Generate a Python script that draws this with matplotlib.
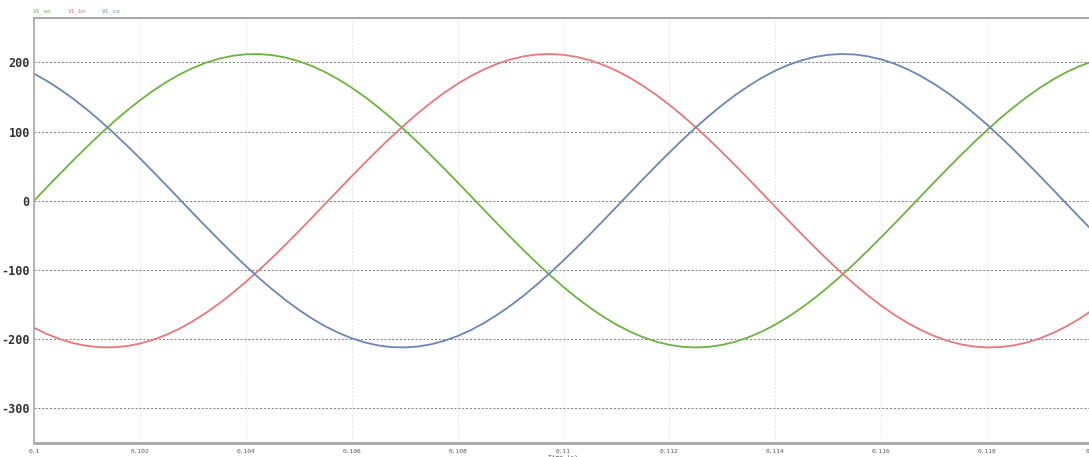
import matplotlib.pyplot as plt
from matplotlib.ticker import FixedLocator

plt.rcParams['axes.unicode_minus'] = False

# time samples (s), one every 0.25 ms
time = [0.1 + 0.00025 * k for k in range(81)]

v1_an = [0, 20.0, 39.7, 59.1, 78.0, 96.2, 113.6, 129.9, 145.1, 159.0,
         171.5, 182.5, 191.8, 199.5, 205.3, 209.4, 211.6, 211.9, 210.3, 206.9,
         201.6, 194.6, 185.8, 175.3, 163.3, 149.9, 135.1, 119.2, 102.1, 84.2,
         65.5, 46.2, 26.6, 6.7, -13.3, -33.2, -52.7, -71.8, -90.3, -107.9,
         -124.6, -140.2, -154.5, -167.5, -179.0, -188.9, -197.1, -203.6, -208.2, -211.1,
         -212.0, -211.1, -208.2, -203.6, -197.1, -188.9, -179.0, -167.5, -154.5, -140.2,
         -124.6, -107.9, -90.3, -71.8, -52.7, -33.2, -13.3, 6.7, 26.6, 46.2,
         65.5, 84.2, 102.1, 119.2, 135.1, 149.9, 163.3, 175.3, 185.8, 194.6,
         201.6]

v1_bn = [-183.6, -192.8, -200.2, -205.9, -209.7, -211.7, -211.8, -210.0, -206.4, -200.9,
         -193.7, -184.7, -174.0, -161.9, -148.3, -133.4, -117.3, -100.2, -82.2, -63.4,
         -44.1, -24.4, -4.4, 15.5, 35.4, 54.9, 73.9, 92.3, 109.8, 126.4,
         141.9, 156.1, 168.9, 180.2, 189.9, 197.9, 204.2, 208.7, 211.3, 212.0,
         210.8, 207.8, 203.0, 196.3, 187.9, 177.8, 166.1, 153.0, 138.5, 122.8,
         106.0, 88.3, 69.7, 50.6, 31.0, 11.1, -8.9, -28.8, -48.4, -67.6,
         -86.2, -104.1, -121.0, -136.8, -151.5, -164.8, -176.6, -186.8, -195.4, -202.3,
         -207.4, -210.6, -212.0, -211.4, -209.0, -204.8, -198.7, -190.9, -181.4, -170.2,
         -157.5]

v1_cn = [183.6, 172.8, 160.5, 146.8, 131.7, 115.5, 98.2, 80.1, 61.3, 41.9,
         22.2, 2.2, -17.8, -37.6, -57.0, -76.0, -94.3, -111.7, -128.1, -143.5,
         -157.5, -170.2, -181.4, -190.8, -198.7, -204.8, -209.0, -211.5, -211.9, -210.6,
         -207.4, -202.3, -195.5, -186.9, -176.6, -164.7, -151.5, -136.9, -121.0, -104.1,
         -86.2, -67.6, -48.5, -28.8, -8.9, 11.1, 31.0, 50.6, 69.7, 88.3,
         106.0, 122.8, 138.5, 153.0, 166.1, 177.8, 187.9, 196.3, 202.9, 207.8,
         210.8, 212.0, 211.3, 208.6, 204.2, 198.0, 189.9, 180.1, 168.8, 156.1,
         141.9, 126.4, 109.9, 92.2, 73.9, 54.9, 35.4, 15.6, -4.4, -24.4,
         -44.1]

x_ticks = [0.1, 0.102, 0.104, 0.106, 0.108, 0.11, 0.112, 0.114, 0.116, 0.118, 0.12]
x_labels = ['0.1', '0.102', '0.104', '0.106', '0.108', '0.11', '0.112', '0.114', '0.116', '0.118', '0.12']
y_ticks = [-300, -200, -100, 0, 100, 200]

names = ['V1_an', 'V1_bn', 'V1_cn']
colors = ['#6db33f', '#e8777a', '#6a86b6']

fig = plt.figure(figsize=(10.89, 4.57), dpi=100)
ax = fig.add_axes([34 / 1089, 14 / 457, 1059 / 1089, 425 / 457])

for y, c in zip([v1_an, v1_bn, v1_cn], colors):
    ax.plot(time, y, color=c, lw=1.3, solid_joinstyle='round')

ax.set_xlim(0.1, 0.12)
ax.set_ylim(-350, 264)

ax.xaxis.set_major_locator(FixedLocator(x_ticks))
ax.set_xticklabels(x_labels, fontsize=4.5, family='DejaVu Sans Mono', color='#555555')
ax.set_yticks(y_ticks)
ax.set_yticklabels([str(v) for v in y_ticks], fontsize=8.5, family='DejaVu Sans Mono',
                   fontweight='bold', color='#333333')
ax.tick_params(axis='both', length=0)
ax.tick_params(axis='x', pad=4)
ax.tick_params(axis='y', pad=3)

ax.grid(axis='y', color='#7a7a7a', ls=(0, (2, 2)), lw=0.7)
ax.grid(axis='x', color='#e6e6e6', ls=(0, (2, 2)), lw=0.7)

for s in ['left', 'bottom', 'top']:
    ax.spines[s].set_color('#a8a8a8')
ax.spines['left'].set_linewidth(1.2)
ax.spines['bottom'].set_linewidth(2.0)
ax.spines['top'].set_linewidth(1.5)
ax.spines['right'].set_visible(False)

ax.set_xlabel('Time (s)', fontsize=4.5, family='DejaVu Sans Mono', color='#444444', labelpad=1)

for i, (n, c) in enumerate(zip(names, colors)):
    fig.text((33 + 34.5 * i) / 1089, 1 - 11 / 457, n, color=c, fontsize=4.5,
             family='DejaVu Sans Mono', va='center', ha='left')

plt.savefig('out.png', dpi=100)
